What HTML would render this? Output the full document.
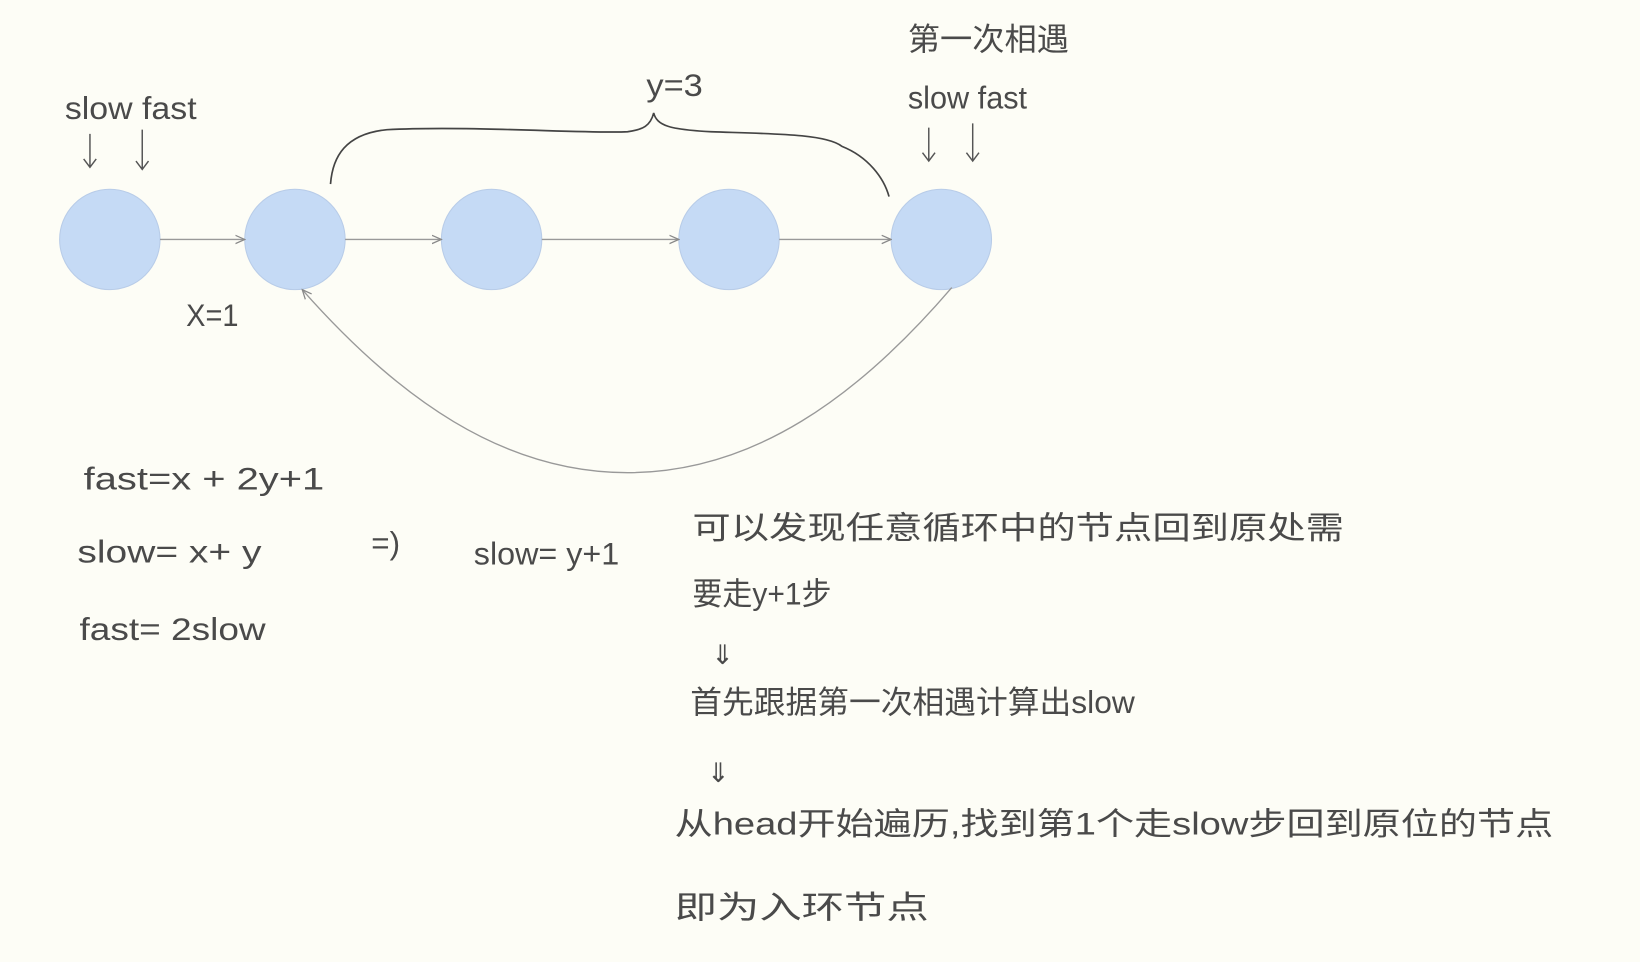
<!DOCTYPE html>
<html><head><meta charset="utf-8">
<style>
html,body{margin:0;padding:0;background:#fdfdf6;}
svg{display:block;}
text{font-family:"Liberation Sans","Noto Sans CJK SC",sans-serif;fill:#4a4a4a;}
</style></head>
<body>
<svg width="1640" height="962" viewBox="0 0 1568 920" preserveAspectRatio="none" xmlns="http://www.w3.org/2000/svg">
<defs>
<marker id="ah" markerWidth="10" markerHeight="10" refX="9" refY="5" orient="auto" markerUnits="userSpaceOnUse">
<path d="M0,1 L9,5 L0,9" fill="none" stroke="#888" stroke-width="1.2"/>
</marker>
</defs>
<rect width="1568" height="920" fill="#fdfdf6"/>

<g fill="#c5daf5" stroke="#b8cce8">
<circle cx="105" cy="229" r="48"/>
<circle cx="282" cy="229" r="48"/>
<circle cx="470" cy="229" r="48"/>
<circle cx="697" cy="229" r="48"/>
<circle cx="900" cy="229" r="48"/>
</g>

<g stroke="#999" stroke-width="1.3" fill="none">
<line x1="153" y1="229" x2="234" y2="229" marker-end="url(#ah)"/>
<line x1="330" y1="229" x2="422" y2="229" marker-end="url(#ah)"/>
<line x1="518" y1="229" x2="649" y2="229" marker-end="url(#ah)"/>
<line x1="745" y1="229" x2="852" y2="229" marker-end="url(#ah)"/>
<path d="M910,275 C820,380 720,452 600,452 C480,452 380,380 289,277" marker-end="url(#ah)"/>
</g>

<path d="M316,176 C318,150 330,128 370,124 C450,120 560,128 600,126 C615,124 622,120 625,108 C628,120 640,124 680,126 C740,128 790,128 805,140 C830,150 845,170 850,188" fill="none" stroke="#444" stroke-width="1.6"/>

<g stroke="#555" stroke-width="1.4" fill="none">
<path d="M86,128 V160 M80,152 L86,160 L92,152"/>
<path d="M136,124 V162 M130,154 L136,162 L142,154"/>
<path d="M888,122 V154 M882,146 L888,154 L894,146"/>
<path d="M930,118 V154 M924,146 L930,154 L936,146"/>
</g>

<g font-size="30" lengthAdjust="spacingAndGlyphs">
<text x="62" y="114" textLength="126" lengthAdjust="spacingAndGlyphs">slow fast</text>
<text x="618" y="92" textLength="54" lengthAdjust="spacingAndGlyphs">y=3</text>
<text x="868" y="48" textLength="154" lengthAdjust="spacingAndGlyphs">第一次相遇</text>
<text x="868" y="104" textLength="114" lengthAdjust="spacingAndGlyphs">slow fast</text>
<text x="178" y="312" textLength="50" lengthAdjust="spacingAndGlyphs">X=1</text>
<text x="80" y="468" textLength="230" lengthAdjust="spacingAndGlyphs">fast=x + 2y+1</text>
<text x="74" y="538" textLength="176" lengthAdjust="spacingAndGlyphs">slow= x+  y</text>
<text x="355" y="530">=)</text>
<text x="453" y="540" textLength="139" lengthAdjust="spacingAndGlyphs">slow= y+1</text>
<text x="76" y="612" textLength="178" lengthAdjust="spacingAndGlyphs">fast= 2slow</text>
<text x="662" y="515" textLength="623" lengthAdjust="spacingAndGlyphs">可以发现任意循环中的节点回到原处需</text>
<text x="662" y="578" textLength="133" lengthAdjust="spacingAndGlyphs">要走y+1步</text>
<text x="680" y="635" font-size="26">⇓</text>
<text x="660" y="682" textLength="425" lengthAdjust="spacingAndGlyphs">首先跟据第一次相遇计算出slow</text>
<text x="676" y="748" font-size="26">⇓</text>
<text x="645" y="798" textLength="840" lengthAdjust="spacingAndGlyphs">从head开始遍历,找到第1个走slow步回到原位的节点</text>
<text x="645" y="878" textLength="243" lengthAdjust="spacingAndGlyphs">即为入环节点</text>
</g>
</svg>
</body></html>
